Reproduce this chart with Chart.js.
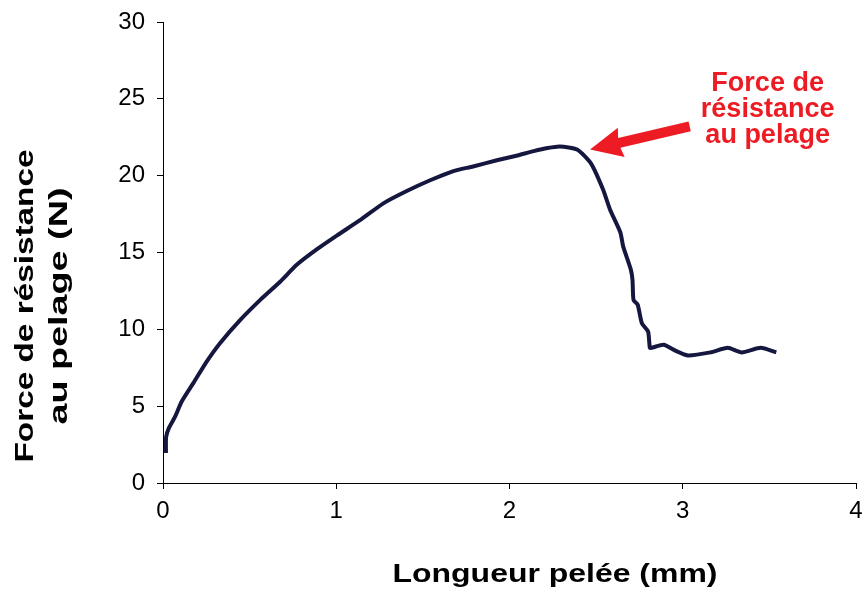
<!DOCTYPE html>
<html>
<head>
<meta charset="utf-8">
<script src="https://cdn.jsdelivr.net/npm/chart.js@4/dist/chart.umd.min.js"></script>
<style>
  body { margin: 0; background: #fff; }
</style>
</head>
<body>
<canvas id="myChart" width="863" height="596"></canvas>
<script>
// longueur pelée (mm) et force (N)
var longueur = [0.017, 0.018, 0.035, 0.069, 0.108, 0.175, 0.252, 0.329, 0.445, 0.56, 0.676, 0.772, 0.887, 1.003,
  1.137, 1.272, 1.407, 1.542, 1.676, 1.79, 1.927, 2.04, 2.14, 2.22, 2.29, 2.39, 2.47, 2.54, 2.58, 2.64, 2.656,
  2.70, 2.71, 2.716, 2.74, 2.764, 2.80, 2.81, 2.82, 2.89, 2.96, 3.03, 3.16, 3.26, 3.34, 3.45, 3.54];
var force = [1.95, 3.0, 3.6, 4.3, 5.3, 6.5, 7.9, 9.1, 10.6, 11.9, 13.1, 14.2, 15.2, 16.1,
  17.1, 18.2, 19.0, 19.7, 20.3, 20.6, 21.0, 21.3, 21.6, 21.8, 21.9, 21.7, 20.8, 19.1, 17.8, 16.3, 15.4,
  13.9, 13.2, 11.9, 11.6, 10.4, 9.85, 8.8, 8.8, 9.0, 8.6, 8.3, 8.5, 8.8, 8.5, 8.8, 8.5];
var xTicks = [0, 1, 2, 3, 4];
var yTicks = [0, 5, 10, 15, 20, 25, 30];
var titreX = 'Longueur pelée (mm)';
var titreY = ['Force de résistance', 'au pelage (N)'];
var note = ['Force de', 'résistance', 'au pelage'];

var points = longueur.map(function (x, i) { return { x: x, y: force[i] }; });

function fitText(ctx, txt, x, y, w) {
  // texte étiré à la largeur voulue, comme dans l'original
  var m = ctx.measureText(txt).width;
  ctx.save();
  ctx.translate(x, y);
  ctx.scale(w / m, 1);
  ctx.fillText(txt, 0, 0);
  ctx.restore();
}

var labels = {
  id: 'labels',
  afterDraw: function (chart) {
    var ctx = chart.ctx;
    var xs = chart.scales.x, ys = chart.scales.y;
    ctx.save();
    ctx.fillStyle = '#000';
    ctx.textAlign = 'center';
    ctx.textBaseline = 'middle';
    ctx.font = 'bold 26px "Liberation Sans", Arial, sans-serif';
    fitText(ctx, titreX, 555, 575, 325);
    ctx.save();
    ctx.translate(0, 306);
    ctx.rotate(-Math.PI / 2);
    fitText(ctx, titreY[0], 0, 26, 313);
    fitText(ctx, titreY[1], 0, 60, 237);
    ctx.restore();

    // flèche rouge
    var tipX = xs.getPixelForValue(2.465), tipY = ys.getPixelForValue(21.7);
    var tailX = xs.getPixelForValue(3.04), tailY = ys.getPixelForValue(23.2);
    var ang = Math.atan2(tailY - tipY, tailX - tipX);
    var len = Math.hypot(tailX - tipX, tailY - tipY);
    ctx.translate(tipX, tipY);
    ctx.rotate(ang);
    ctx.fillStyle = '#ed1c24';
    ctx.beginPath();
    ctx.moveTo(0, 0);
    ctx.lineTo(32, -15);
    ctx.lineTo(30, -5);
    ctx.lineTo(len, -5);
    ctx.lineTo(len, 5);
    ctx.lineTo(30, 5);
    ctx.lineTo(32, 15);
    ctx.closePath();
    ctx.fill();
    ctx.restore();

    ctx.save();
    ctx.fillStyle = '#ed1c24';
    ctx.textAlign = 'center';
    ctx.textBaseline = 'middle';
    ctx.font = 'bold 27px "Liberation Sans", Arial, sans-serif';
    var cx = xs.getPixelForValue(3.49);
    note.forEach(function (t, i) {
      ctx.fillText(t, cx, 84 + i * 26);
    });
    ctx.restore();
  }
};

var ctx = document.getElementById('myChart').getContext('2d');
var myChart = new Chart(ctx, {
  type: 'line',
  data: {
    datasets: [{
      data: points,
      borderColor: '#15173f',
      borderWidth: 4,
      pointRadius: 0,
      tension: 0.2,
      fill: false
    }]
  },
  options: {
    responsive: false,
    devicePixelRatio: 1,
    animation: false,
    layout: { padding: { left: 0, right: 7, top: 22, bottom: 0 } },
    plugins: { legend: { display: false }, tooltip: { enabled: false } },
    scales: {
      x: {
        type: 'linear',
        min: 0,
        max: 4,
        afterBuildTicks: function (s) { s.ticks = xTicks.map(function (v) { return { value: v }; }); },
        afterFit: function (s) { s.height = 113; s.paddingLeft = 0; s.paddingRight = 0; },
        grid: { drawOnChartArea: false, drawTicks: true, tickLength: 6, color: '#000' },
        border: { color: '#000', width: 1 },
        ticks: { color: '#000', padding: 8, maxRotation: 0, font: { family: '"Liberation Sans", Arial, sans-serif', size: 24 } }
      },
      y: {
        min: 0,
        max: 30,
        afterBuildTicks: function (s) { s.ticks = yTicks.map(function (v) { return { value: v }; }); },
        afterFit: function (s) { s.width = 163; s.paddingTop = 0; s.paddingBottom = 0; },
        grid: { drawOnChartArea: false, drawTicks: true, tickLength: 6, color: '#000' },
        border: { color: '#000', width: 1 },
        ticks: { color: '#000', padding: 12, font: { family: '"Liberation Sans", Arial, sans-serif', size: 24 } }
      }
    }
  },
  plugins: [labels]
});
</script>
</body>
</html>
